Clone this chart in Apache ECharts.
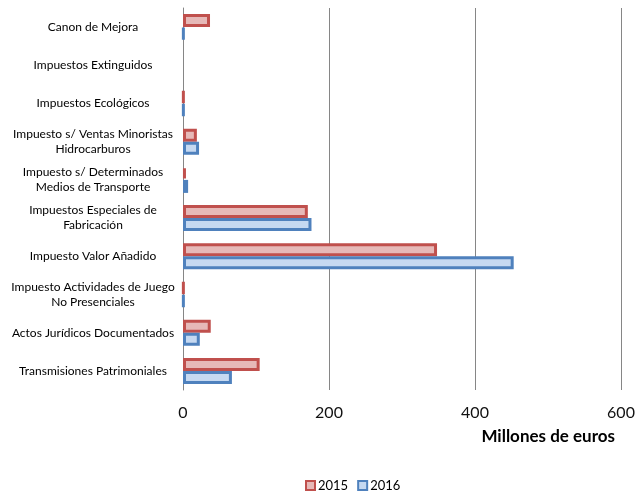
<!DOCTYPE html>
<html><head><meta charset="utf-8">
<script src="https://cdn.jsdelivr.net/npm/echarts@6/dist/echarts.min.js"></script>
<style>html,body{margin:0;padding:0;background:#fff}#c{width:639px;height:497px}</style>
</head><body><div id="c"></div>
<script>
const categories = [
  "Canon de Mejora",
  "Impuestos Extinguidos",
  "Impuestos Ecológicos",
  "Impuesto s/ Ventas Minoristas\nHidrocarburos",
  "Impuesto s/ Determinados\nMedios de Transporte",
  "Impuestos Especiales de\nFabricación",
  "Impuesto Valor Añadido",
  "Impuesto Actividades de Juego\nNo Presenciales",
  "Actos Jurídicos Documentados",
  "Transmisiones Patrimoniales"
];
const values2015 = [37, 0, 1, 19, 4, 171, 348, 1, 38, 105];
const values2016 = [1, 0, 1, 22, 7, 176, 453, 1, 23, 67];
const xTicks = [0, 200, 400, 600];

// zero values are not drawn (no visible bar in the original)
const toData = arr => arr.map(v => (v === 0 ? null : v));

const FONT = "Lato, 'Open Sans', sans-serif";
const chart = echarts.init(document.getElementById('c'));
chart.setOption({
  animation: false,
  textStyle: { fontFamily: FONT },
  grid: { left: 183, right: 18, top: 8, bottom: 107, containLabel: false },
  legend: {
    data: ['2015', '2016'],
    left: 300, bottom: 0,
    itemWidth: 9, itemHeight: 9, itemGap: 9,
    icon: 'rect',
    textStyle: { fontSize: 13, color: '#000', fontFamily: FONT, padding: [0, 0, 0, -2] }
  },
  xAxis: {
    type: 'value', min: xTicks[0], max: xTicks[xTicks.length - 1], interval: 200,
    axisLine: { show: false },
    axisTick: { show: false },
    axisLabel: { fontSize: 16, color: '#111', margin: 15, fontFamily: FONT },
    splitLine: { show: true, lineStyle: { color: '#868686', width: 1 } },
    name: 'Millones de euros', nameLocation: 'end',
    nameGap: 0,
    nameTextStyle: { fontSize: 17, fontWeight: 'bold', color: '#000', align: 'right', verticalAlign: 'top', padding: [38, 6, 0, 0] }
  },
  yAxis: {
    type: 'category', data: categories, inverse: true,
    axisLine: { show: true, lineStyle: { color: '#868686', width: 1 } },
    axisTick: { show: false },
    axisLabel: { fontSize: 12, color: '#000', align: 'center', margin: 90, lineHeight: 15, fontFamily: FONT, interval: 0 }
  },
  series: [
    { name: '2015', type: 'bar', data: toData(values2015), barWidth: 13, barGap: '0%',
      itemStyle: { color: '#E6B9B8', borderColor: '#C0504D', borderWidth: 3 } },
    { name: '2016', type: 'bar', data: toData(values2016), barWidth: 13,
      itemStyle: { color: '#C6D9F1', borderColor: '#4F81BD', borderWidth: 3 } }
  ]
});
</script></body></html>
